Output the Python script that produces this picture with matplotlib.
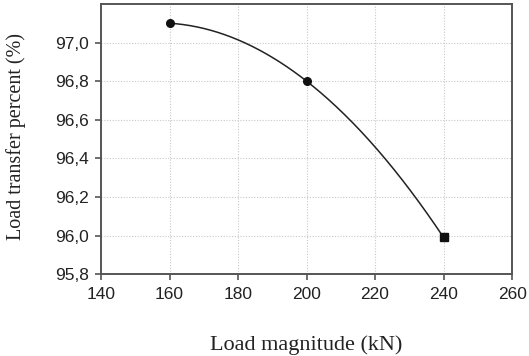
import numpy as np
import matplotlib.pyplot as plt
from matplotlib.ticker import FuncFormatter

# load transfer vs. applied load
load_kn = [160, 200, 240]
transfer_pct = [97.1, 96.8, 95.99]
markers = ["o", "o", "s"]

x_ticks = [140, 160, 180, 200, 220, 240, 260]
y_ticks = [95.8, 96.0, 96.2, 96.4, 96.6, 96.8, 97.0]

fig = plt.figure(figsize=(5.29, 3.56), dpi=100)
ax = fig.add_axes([0.191, 0.230, 0.777, 0.759])

# smooth trend line through the measured points
coef = np.polyfit(load_kn, transfer_pct, 2)
xs = np.linspace(load_kn[0], load_kn[-1], 200)
ax.plot(xs, np.polyval(coef, xs), color="#222222", lw=1.1, zorder=3)
for x, y, m in zip(load_kn, transfer_pct, markers):
    ax.plot(x, y, marker=m, color="#111111", ms=5.5, zorder=4)

ax.set_xlim(140, 260)
ax.set_ylim(95.8, 97.2)
ax.set_xticks(x_ticks)
ax.set_yticks(y_ticks)
ax.yaxis.set_major_formatter(FuncFormatter(lambda v, p: f"{v:.1f}".replace(".", ",")))
ax.grid(True, linestyle=(0, (1, 1.5)), color="#c8c8c8", lw=0.8)
ax.set_axisbelow(True)

for s in ax.spines.values():
    s.set_color("#555555")
    s.set_linewidth(1.4)
ax.tick_params(direction="out", length=4, width=1.2, color="#555555",
               labelsize=12.5, labelcolor="#222222")
ax.tick_params(axis="x", pad=5)
ax.tick_params(axis="y", pad=5)
for lab in ax.get_xticklabels() + ax.get_yticklabels():
    lab.set_family("Liberation Sans")

ax.set_xlabel("Load magnitude (kN)", family="Liberation Serif", fontsize=16,
              color="#222222")
ax.set_ylabel("Load transfer percent (%)", family="Liberation Serif", fontsize=14.5,
              color="#222222")
ax.xaxis.set_label_coords(0.5, -0.228)
ax.yaxis.set_label_coords(-0.182, 0.51)

fig.savefig("out.png", dpi=100)
